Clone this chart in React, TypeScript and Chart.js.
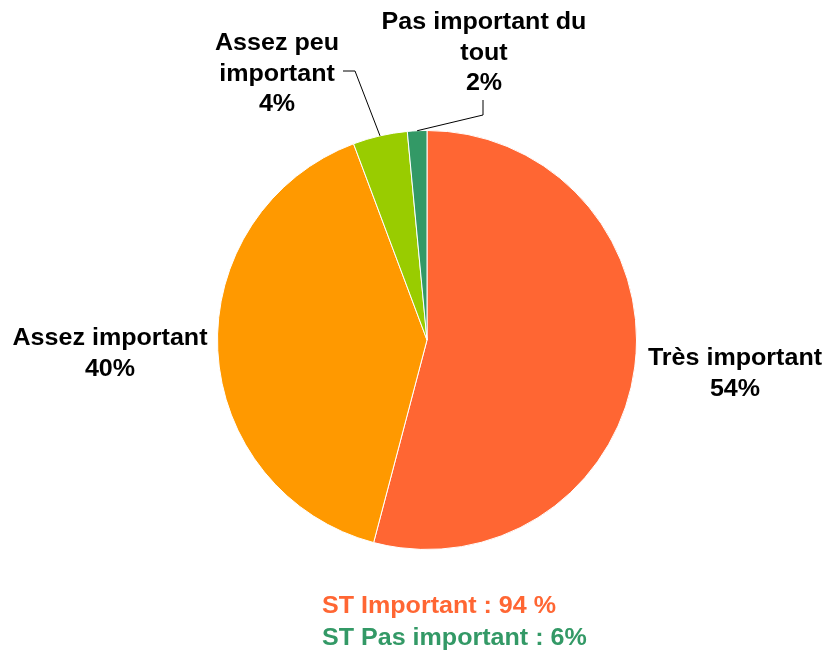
import React, { useEffect, useRef } from "react";
import { Chart, registerables } from "chart.js";

Chart.register(...registerables);

const categories: string[][] = [
  ["Très important"],
  ["Assez important"],
  ["Assez peu", "important"],
  ["Pas important du", "tout"],
];
const values: number[] = [54.1, 40.2, 4.2, 1.5];
const colors: string[] = ["#FF6633", "#FF9900", "#99CC00", "#339966"];
const summaryLabels: string[] = ["ST Important : ", "ST Pas important : "];
const summaryColors: string[] = ["#FF6633", "#339966"];

const FONT = "bold 23px 'Liberation Sans', Arial, sans-serif";
const STRETCH = 1.09;

// label placement relative to pie centre (x offset of text centre, y offset of first baseline)
const labelPlacement = [
  { dx: 308, dy: 25, leader: null as null | number[][] },
  { dx: -317, dy: 5, leader: null as null | number[][] },
  { dx: -150, dy: -290, leader: [[-72, -269], [-84, -269]] },
  { dx: 57, dy: -311, leader: [[56, -225], [56, -240]] },
];

function fillStretched(ctx: CanvasRenderingContext2D, text: string, x: number, y: number, align: "center" | "left") {
  ctx.save();
  ctx.translate(x, y);
  ctx.scale(STRETCH, 1);
  ctx.textAlign = align;
  ctx.fillText(text, 0, 0);
  ctx.restore();
}

const labelsPlugin = {
  id: "customLabels",
  afterDraw(chart: any) {
    const ctx = chart.ctx as CanvasRenderingContext2D;
    const meta = chart.getDatasetMeta(0);
    const data = chart.data.datasets[0].data as number[];
    ctx.save();
    ctx.font = FONT;
    ctx.fillStyle = "#000";
    ctx.textBaseline = "alphabetic";
    meta.data.forEach((arc: any, i: number) => {
      const p = labelPlacement[i];
      const cx = arc.x, cy = arc.y;
      const lines = [...categories[i], Math.round(data[i]) + "%"];
      lines.forEach((t, k) => {
        fillStretched(ctx, t, cx + p.dx, cy + p.dy + k * 30.5, "center");
      });
      if (p.leader) {
        const mid = (arc.startAngle + arc.endAngle) / 2;
        const ex = cx + Math.cos(mid) * arc.outerRadius;
        const ey = cy + Math.sin(mid) * arc.outerRadius;
        ctx.strokeStyle = "#000";
        ctx.lineWidth = 1;
        ctx.beginPath();
        ctx.moveTo(ex, ey);
        p.leader.forEach((pt) => ctx.lineTo(cx + pt[0], cy + pt[1]));
        ctx.stroke();
      }
    });
    // summary
    const rounded = data.map((v) => Math.round(v));
    const stImp = rounded[0] + rounded[1];
    const stPas = rounded[2] + rounded[3];
    ctx.fillStyle = summaryColors[0];
    fillStretched(ctx, summaryLabels[0] + stImp + " %", 322, 613, "left");
    ctx.fillStyle = summaryColors[1];
    fillStretched(ctx, summaryLabels[1] + stPas + "%", 322, 645, "left");
    ctx.restore();
  },
};

export default function App() {
  const ref = useRef<HTMLCanvasElement | null>(null);
  useEffect(() => {
    if (!ref.current) return;
    const chart = new Chart(ref.current, {
      type: "pie",
      data: {
        labels: categories.map((c) => c.join(" ")),
        datasets: [
          {
            data: values,
            backgroundColor: colors,
            borderColor: "#ffffff",
            borderWidth: 1,
          },
        ],
      },
      options: {
        animation: false,
        responsive: false,
        maintainAspectRatio: false,
        layout: { padding: { top: 130, bottom: 100, left: 217, right: 190 } },
        plugins: {
          legend: { display: false },
          tooltip: { enabled: false },
        },
      },
      plugins: [labelsPlugin],
    });
    return () => chart.destroy();
  }, []);
  return (
    <div style={{ position: "absolute", left: 0, top: 0, width: 827, height: 650, background: "#fff" }}>
      <canvas ref={ref} width={827} height={650} style={{ width: 827, height: 650 }} />
    </div>
  );
}
